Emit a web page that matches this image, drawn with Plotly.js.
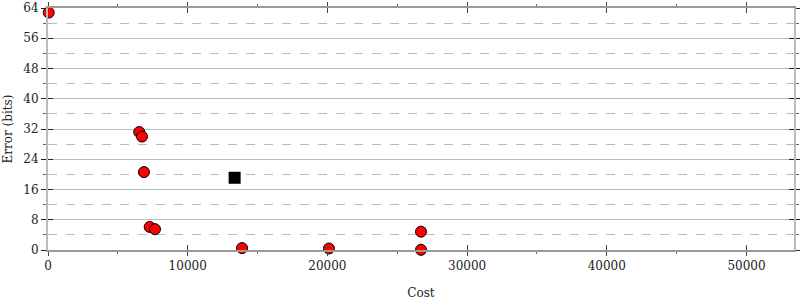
<!DOCTYPE html>
<html><head><meta charset="utf-8">
<script src="https://cdn.plot.ly/plotly-3.0.1.min.js"></script>
<style>body{margin:0;background:#fff}#c{width:800px;height:300px}</style>
</head><body><div id="c"></div>
<script>
const redCost  = [50, 6530, 6730, 6870, 7280, 7660, 13890, 20110, 26700, 26700];
const redError = [62.8, 31.2, 30.0, 20.6, 6.1, 5.5, 0.5, 0.4, 4.85, 0.05];
const blackCost  = [13360];
const blackError = [19.1];
const xTitle = "Cost";
const yTitle = "Error (bits)";
const font = {family: "DejaVu Serif", size: 12, color: "#222"};
const traces = [
  {x: redCost, y: redError, type: "scatter", mode: "markers", cliponaxis: false,
   marker: {color: "#ff0000", size: 11, line: {color: "#000", width: 1}}},
  {x: blackCost, y: blackError, type: "scatter", mode: "markers", cliponaxis: false,
   marker: {color: "#000", symbol: "square", size: 12}},
];
const layout = {
  width: 800, height: 300, showlegend: false,
  paper_bgcolor: "#fff", plot_bgcolor: "#fff", font: font,
  margin: {l: 48, r: 6, t: 8, b: 50},
  xaxis: {range: [0, 53400], dtick: 10000, tick0: 0, showgrid: false, zeroline: false,
    showline: true, linecolor: "#999", linewidth: 2, mirror: "ticks",
    ticks: "outside", ticklen: 4, tickcolor: "#444", tickwidth: 1,
    minor: {dtick: 5000, ticks: "outside", ticklen: 2, tickcolor: "#666", showgrid: false},
    tickformat: "d", title: {text: xTitle, font: font, standoff: 20}},
  yaxis: {range: [0, 64], dtick: 8, tick0: 0, showgrid: true, gridcolor: "#bbb", gridwidth: 1,
    zeroline: false, showline: true, linecolor: "#bbb", linewidth: 2, mirror: "ticks",
    ticks: "outside", ticklen: 5, tickcolor: "#222", tickwidth: 1,
    minor: {dtick: 4, ticks: "outside", ticklen: 3, tickcolor: "#666",
      showgrid: true, gridcolor: "#bbb", griddash: "dash", gridwidth: 1},
    title: {text: yTitle, font: font, standoff: 8}},
  xaxis2: {overlaying: "x", range: [0, 53400], dtick: 10000, tick0: 0, showgrid: false, zeroline: false,
    showline: false, ticks: "inside", ticklen: 5, tickcolor: "#444", showticklabels: false, mirror: "ticks"},
  yaxis2: {overlaying: "y", range: [0, 64], dtick: 8, tick0: 0, showgrid: false, zeroline: false,
    showline: false, ticks: "inside", ticklen: 5, tickcolor: "#222", showticklabels: false, mirror: "ticks"},
};
traces.push({x: [null], y: [null], xaxis: "x2", yaxis: "y2", type: "scatter", mode: "markers", hoverinfo: "skip"});
Plotly.newPlot("c", traces, layout, {staticPlot: true});
</script></body></html>
